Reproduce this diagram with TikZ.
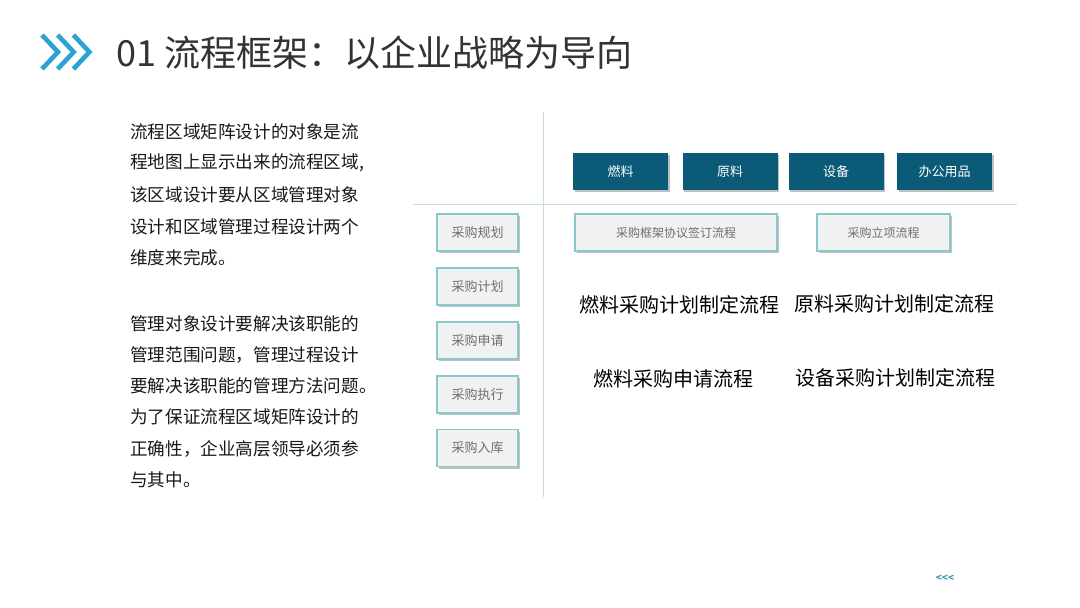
\documentclass[tikz,border=0pt]{standalone}
\usepackage{fontspec}
\setmainfont{Noto Sans CJK SC}
\usetikzlibrary{shadows}
\definecolor{dteal}{HTML}{0B5A78}
\definecolor{chev}{HTML}{2BA3D3}
\definecolor{boxline}{HTML}{8CC7CE}
\definecolor{boxfill}{HTML}{F0F1F1}
\definecolor{boxtext}{HTML}{6E6E6E}
\definecolor{gridline}{HTML}{C9DEE2}
\definecolor{titlegray}{HTML}{333333}
\definecolor{pagemark}{HTML}{3C9DB0}
\tikzset{
  shad/.style={drop shadow={shadow xshift=1.5pt, shadow yshift=-2pt, opacity=0.35, fill=black!70}},
  catbox/.style={shad, fill=dteal, text=white, minimum width=95, minimum height=37, inner sep=0pt, font=\fontsize{13}{15}\selectfont},
  procbox/.style={shad, fill=boxfill, draw=boxline, line width=1.2pt, text=boxtext, minimum width=81, minimum height=37, inner sep=0pt, font=\fontsize{12}{14}\selectfont},
  stagebox/.style={procbox, font=\fontsize{13}{15}\selectfont},
  bigtext/.style={inner sep=0pt, font=\fontsize{20}{24}\selectfont, text=black},
  para/.style={anchor=west, inner sep=0pt, font=\fontsize{17.6}{20}\selectfont, text=black!90},
  chevline/.style={draw=chev, line width=4.6pt, line join=miter},
  grid/.style={draw=gridline, line width=1pt}
}
\begin{document}
\begin{tikzpicture}[x=1pt,y=-1pt]
\useasboundingbox[fill=white] (0,0) rectangle (1080,608);

% title chevrons
\foreach \i in {0,1,2}{
  \draw[chevline] ({42+15.7*\i},35) -- ({58+15.7*\i},52) -- ({42+15.7*\i},69);
}
\node[anchor=west, inner sep=0pt, text=titlegray, font=\fontsize{36}{40}\selectfont] (title) at (116,53) {01 流程框架：以企业战略为导向};

% paragraph
\node[para] (p1) at (130,132) {流程区域矩阵设计的对象是流};
\node[para] (p2) at (130,163) {程地图上显示出来的流程区域,};
\node[para] (p3) at (130,195) {该区域设计要从区域管理对象};
\node[para] (p4) at (130,227) {设计和区域管理过程设计两个};
\node[para] (p5) at (130,258) {维度来完成。};
\node[para] (p6) at (130,324) {管理对象设计要解决该职能的};
\node[para] (p7) at (130,355) {管理范围问题，管理过程设计};
\node[para] (p8) at (130,386) {要解决该职能的管理方法问题。};
\node[para] (p9) at (130,417) {为了保证流程区域矩阵设计的};
\node[para] (p10) at (130,449) {正确性，企业高层领导必须参};
\node[para] (p11) at (130,480) {与其中。};

% grid lines
\coordinate (vt) at (543,112);
\coordinate (vb) at (543,497);
\coordinate (hl) at (413,204);
\coordinate (hr) at (1017,204);
\draw[grid] (vt) -- (vb);
\draw[grid] (hl) -- (hr);

% category boxes
\node[catbox] (c1) at (620.5,171.5) {燃料};
\node[catbox] (c2) at (730,171.5) {原料};
\node[catbox] (c3) at (836,171.5) {设备};
\node[catbox] (c4) at (944.5,171.5) {办公用品};

% stage boxes
\node[stagebox] (s1) at (477.5,232.5) {采购规划};
\node[stagebox] (s2) at (477.5,286.5) {采购计划};
\node[stagebox] (s3) at (477.5,340.5) {采购申请};
\node[stagebox] (s4) at (477.5,394.5) {采购执行};
\node[stagebox] (s5) at (477.5,448) {采购入库};

% process boxes
\node[procbox, minimum width=202] (f1) at (676,232.5) {采购框架协议签订流程};
\node[procbox, minimum width=133] (f2) at (883.5,232.5) {采购立项流程};

% big texts
\node[bigtext] (t1) at (679,305) {燃料采购计划制定流程};
\node[bigtext] (t2) at (894,304) {原料采购计划制定流程};
\node[bigtext] (t3) at (673,379) {燃料采购申请流程};
\node[bigtext] (t4) at (895,378) {设备采购计划制定流程};

% page mark
\node[inner sep=0pt, text=pagemark, font=\bfseries\fontsize{10}{12}\selectfont] (pg) at (945,578) {{<}{<}{<}};
\end{tikzpicture}
\end{document}
